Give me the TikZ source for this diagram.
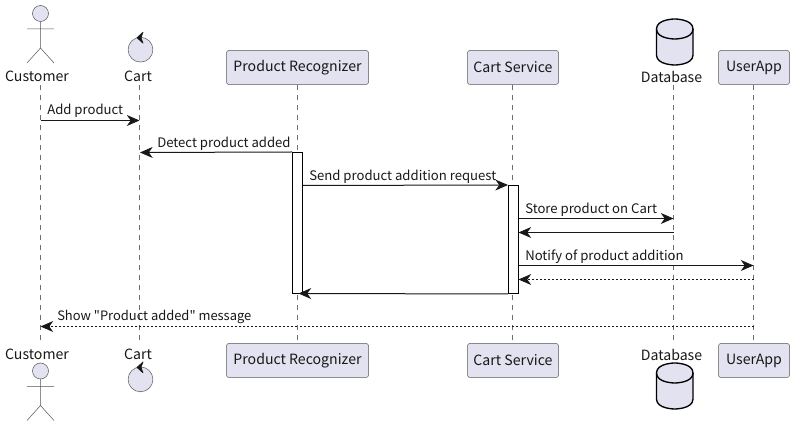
\documentclass[tikz,border=0pt]{standalone}
\usepackage{fontspec}
\newfontfamily\pfont{Noto Sans CJK SC}
\usetikzlibrary{arrows.meta}
\definecolor{pfill}{HTML}{E2E2F0}
\definecolor{pline}{HTML}{181818}
\definecolor{psoft}{HTML}{555555}
\definecolor{plife}{HTML}{6E6E6E}
\tikzset{
  x=0.75pt,y=-0.75pt,
  box/.style={draw=psoft,line width=0.375pt,fill=pfill,rounded corners=1.8pt,minimum height=25.5pt,inner sep=0pt,font=\pfont\fontsize{10.6}{12}\selectfont,text=pline},
  pname/.style={inner sep=0pt,font=\pfont\fontsize{10.6}{12}\selectfont,text=pline},
  msgtext/.style={inner sep=0pt,anchor=base west,font=\pfont\fontsize{9.85}{12}\selectfont,text=pline},
  life/.style={draw=plife,line width=0.375pt,dash pattern=on 3.75pt off 3.75pt},
  act/.style={draw=black,line width=0.75pt,fill=white,inner sep=0pt,minimum width=7.5pt},
  msg/.style={draw=pline,line width=0.75pt,-{Stealth[length=9.5pt,width=8.2pt,inset=2.9pt]}},
  ret/.style={msg,dash pattern=on 1.5pt off 1.5pt},
  fig/.style={draw=psoft,line width=0.375pt,fill=pfill},
  dbfig/.style={draw=black,line width=1pt,fill=pfill},
}
\begin{document}
\begin{tikzpicture}
\useasboundingbox (0,0) rectangle (794,427);
% lifelines
\foreach \n/\x in {a/40.5,b/139.5,c/297.5,d/512.5,e/673.5,f/753.5}{
  \coordinate (\n t) at (\x,85);
  \coordinate (\n b) at (\x,343);
  \draw[life] (\n t) -- (\n b);
}
% participants
\node[pname] (custT) at (37,76.5) {Customer};
\node[pname] (cartT) at (138,76.5) {Cart};
\node[box,minimum width=106.5pt] (prT) at (297.5,67.5) {\raisebox{-1.5pt}{Product Recognizer}};
\node[box,minimum width=68.25pt] (csT) at (513,67.5) {\raisebox{-1.5pt}{Cart Service}};
\node[pname] (dbT) at (671.5,76.5) {Database};
\node[box,minimum width=53.25pt] (uaT) at (754,67.5) {\raisebox{-1.5pt}{UserApp}};
\node[pname] (custB) at (37,354.5) {Customer};
\node[pname] (cartB) at (138,354.5) {Cart};
\node[box,minimum width=106.5pt] (prB) at (297.5,360.5) {\raisebox{-1.5pt}{Product Recognizer}};
\node[box,minimum width=68.25pt] (csB) at (513,360.5) {\raisebox{-1.5pt}{Cart Service}};
\node[pname] (dbB) at (671.5,354.5) {Database};
\node[box,minimum width=53.25pt] (uaB) at (754,360.5) {\raisebox{-1.5pt}{UserApp}};
% actors
\foreach \dy in {0,357.5}{
  \begin{scope}[yshift=-0.75pt*\dy]
    \draw[fig] (40.5,13.5) circle[radius=6pt];
    \draw[fig,fill=none] (40.5,21.5) -- (40.5,48) (27,29) -- (54,29) (27,63) -- (40.5,48) -- (54,63);
  \end{scope}
}
% controls
\foreach \dy in {0,329.7}{
  \begin{scope}[yshift=-0.75pt*\dy]
    \draw[fig] (140.5,49.7) circle[radius=9.3pt];
    \filldraw[pline,line width=0.5pt,line join=round] (143,32.3) -- (137,37.7) -- (143,43.2) -- (141,37.7) -- cycle;
  \end{scope}
}
% databases
\foreach \dy in {0,344}{
  \begin{scope}[yshift=-0.75pt*\dy]
    \draw[dbfig] (656.5,29) .. controls (656.5,19) and (674.75,19) .. (674.75,19)
      .. controls (674.75,19) and (693,19) .. (693,29)
      -- (693,55) .. controls (693,65) and (674.75,65) .. (674.75,65)
      .. controls (674.75,65) and (656.5,65) .. (656.5,55) -- cycle;
    \draw[dbfig,fill=none] (656.5,29) .. controls (656.5,39) and (674.75,39) .. (674.75,39)
      .. controls (674.75,39) and (693,39) .. (693,29);
  \end{scope}
}
% activations
\node[act,minimum height=105.75pt] (ap) at (297.5,223) {};
\node[act,minimum height=81pt] (ac) at (513.5,239.5) {};
% message ends
\coordinate (m1a) at (40.5,120.5); \coordinate (m1b) at (139.5,120.5);
\coordinate (m2b) at (140,152.5);
\coordinate (m3b) at (ac.north west);
\coordinate (m4b) at (673.5,218.5);
\coordinate (m5a) at (673.5,232.5); \coordinate (m5b) at (518.5,232.5);
\coordinate (m6b) at (753.5,265.5);
\coordinate (m7a) at (753.5,279.5); \coordinate (m7b) at (518.5,279.5);
\coordinate (m8b) at (298.5,293.5);
\coordinate (m9a) at (753.5,326.5); \coordinate (m9b) at (40.5,326.5);
% messages
\draw[msg] (m1a) -- (m1b);
\draw[msg] (ap.north west) -- (m2b);
\draw[msg] (ap.east |- 0,185.5) -- (m3b);
\draw[msg] (ac.east |- 0,218.5) -- (m4b);
\draw[msg] (m5a) -- (m5b);
\draw[msg] (ac.east |- 0,265.5) -- (m6b);
\draw[ret] (m7a) -- (m7b);
\draw[msg] (ac.south west) -- (m8b);
\draw[ret] (m9a) -- (m9b);
% labels
\node[msgtext] (l1) at (47,115) {Add product};
\node[msgtext] (l2) at (157,148) {Detect product added};
\node[msgtext] (l3) at (309,181) {Send product addition request};
\node[msgtext] (l4) at (525,214) {Store product on Cart};
\node[msgtext] (l6) at (525,261) {Notify of product addition};
\node[msgtext,font=\pfont\fontsize{9.7}{12}\selectfont] (l9) at (57,320.5) {Show "Product added" message};
\end{tikzpicture}
\end{document}
